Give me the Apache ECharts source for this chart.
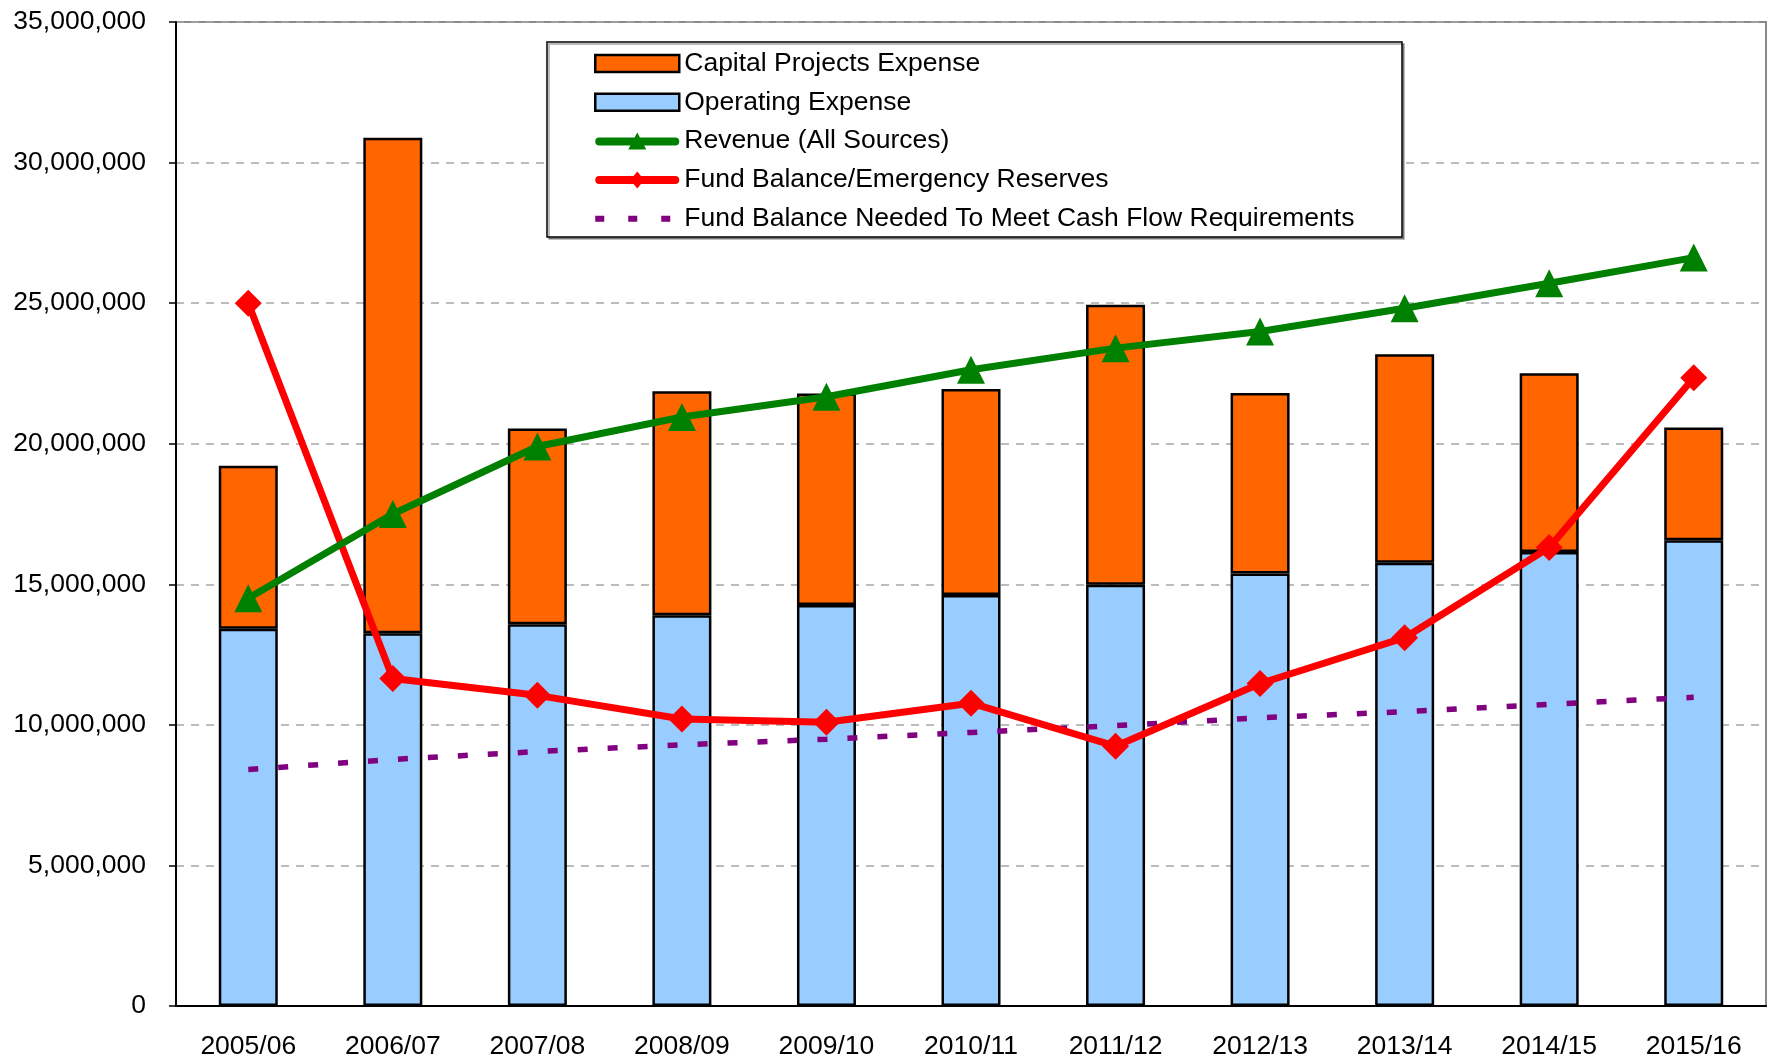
<!DOCTYPE html>
<html>
<head>
<meta charset="utf-8">
<script src="https://cdn.jsdelivr.net/npm/echarts@6/dist/echarts.min.js"></script>
<style>
  html, body { margin: 0; padding: 0; background: #fff; }
  #chart { width: 1769px; height: 1060px; }
</style>
</head>
<body>
<div id="chart"></div>
<script>
// fiscal years on the x axis
var years = ['2005/06', '2006/07', '2007/08', '2008/09', '2009/10', '2010/11',
             '2011/12', '2012/13', '2013/14', '2014/15', '2015/16'];

// stacked bars
var operatingExpense = [13420000, 13260000, 13580000, 13900000, 14260000, 14620000,
                        14980000, 15380000, 15770000, 16150000, 16570000];
var capitalExpense   = [5800000, 17620000, 6960000, 7970000, 7530000, 7330000,
                        9960000, 6420000, 7410000, 6360000, 4010000];

// lines
var revenue     = [14500000, 17500000, 19900000, 20950000, 21670000, 22630000,
                   23400000, 23990000, 24820000, 25710000, 26620000];
var fundBalance = [25000000, 11650000, 11050000, 10210000, 10090000, 10770000,
                   9240000, 11470000, 13100000, 16310000, 22350000];
var fundNeeded  = [8410000, 8770000, 9050000, 9290000, 9490000, 9730000,
                   9970000, 10250000, 10470000, 10730000, 10980000];

var fontFamily = '"Liberation Sans", Arial, sans-serif';

// legend icons for the line series (84 x 17 box)
var iconRevenue = 'path://M4,5 h76 a4,4 0 0 1 0,8 h-76 a4,4 0 0 1 0,-8z M42,0 L51,17 L33,17z';
var iconReserve = 'path://M4,4.5 h76 a4,4 0 0 1 0,8 h-76 a4,4 0 0 1 0,-8z M42,0 L49,8.5 L42,17 L35,8.5z';
var iconNeeded  = 'path://M0,0 h0.01 v0.01 h-0.01z M83.99,16.99 h0.01 v0.01 h-0.01z ' +
                  'M0,5.5 h9 v6 h-9z M33,5.5 h9 v6 h-9z M66,5.5 h9 v6 h-9z';

var chart = echarts.init(document.getElementById('chart'));

var option = {
  animation: false,
  backgroundColor: '#ffffff',
  grid: {
    left: 176,
    right: 3,
    top: 22,
    bottom: 53,
    show: true,
    borderColor: '#8a8a8a',
    borderWidth: 2
  },
  // legend frame
  graphic: [{
    type: 'rect',
    z: 3,
    shape: { x: 547, y: 42, width: 855, height: 195 },
    style: {
      fill: '#ffffff',
      stroke: '#000000',
      lineWidth: 1.5,
      shadowColor: 'rgba(0,0,0,0.35)',
      shadowOffsetX: 2,
      shadowOffsetY: 2
    }
  }],
  legend: {
    z: 5,
    orient: 'vertical',
    left: 594,
    top: 50,
    itemWidth: 84,
    itemHeight: 17,
    itemGap: 11.8,
    padding: 0,
    symbolKeepAspect: false,
    textStyle: {
      fontFamily: fontFamily,
      fontSize: 26.5,
      lineHeight: 26,
      color: '#000'
    },
    data: [
      { name: 'Capital Projects Expense', icon: 'rect',
        itemStyle: { borderColor: '#000', borderWidth: 2.5 } },
      { name: 'Operating Expense', icon: 'rect',
        itemStyle: { borderColor: '#000', borderWidth: 2.5 } },
      { name: 'Revenue (All Sources)', icon: iconRevenue, itemStyle: { borderWidth: 0 } },
      { name: 'Fund Balance/Emergency Reserves', icon: iconReserve, itemStyle: { borderWidth: 0 } },
      { name: 'Fund Balance Needed To Meet Cash Flow Requirements', icon: iconNeeded, itemStyle: { borderWidth: 0 } }
    ]
  },
  xAxis: {
    type: 'category',
    data: years,
    boundaryGap: true,
    axisLine: { lineStyle: { color: '#000', width: 2 } },
    axisTick: { length: 8, lineStyle: { color: '#000', width: 1.5 } },
    axisLabel: {
      margin: 27,
      fontFamily: fontFamily,
      fontSize: 26.5,
      color: '#000'
    },
    splitLine: { show: false }
  },
  yAxis: {
    type: 'value',
    min: 0,
    max: 35000000,
    interval: 5000000,
    axisLine: { show: true, lineStyle: { color: '#000', width: 2 } },
    axisTick: { show: true, length: 7, lineStyle: { color: '#000', width: 1.5 } },
    axisLabel: {
      margin: 30,
      fontFamily: fontFamily,
      fontSize: 26.5,
      color: '#000',
      formatter: function (v) { return v.toLocaleString('en-US'); }
    },
    splitLine: {
      show: true,
      lineStyle: { color: '#a6a6a6', width: 1.5, type: [8, 7] }
    }
  },
  series: [
    {
      name: 'Operating Expense',
      type: 'bar',
      stack: 'exp',
      barWidth: 59,
      data: operatingExpense,
      itemStyle: { color: '#99ccff', borderColor: '#000', borderWidth: 2.5 }
    },
    {
      name: 'Capital Projects Expense',
      type: 'bar',
      stack: 'exp',
      barWidth: 59,
      data: capitalExpense,
      itemStyle: { color: '#ff6600', borderColor: '#000', borderWidth: 2.5 }
    },
    {
      name: 'Fund Balance Needed To Meet Cash Flow Requirements',
      type: 'line',
      data: fundNeeded,
      symbol: 'none',
      z: 3,
      itemStyle: { color: '#800080' },
      lineStyle: { color: '#800080', width: 5.5, type: [10, 20] }
    },
    {
      name: 'Fund Balance/Emergency Reserves',
      type: 'line',
      data: fundBalance,
      symbol: 'diamond',
      symbolSize: 27,
      z: 4,
      itemStyle: { color: '#ff0000' },
      lineStyle: { color: '#ff0000', width: 7 }
    },
    {
      name: 'Revenue (All Sources)',
      type: 'line',
      data: revenue,
      symbol: 'triangle',
      symbolSize: 28,
      z: 4,
      itemStyle: { color: '#008000' },
      lineStyle: { color: '#008000', width: 7 }
    }
  ]
};

chart.setOption(option);
</script>
</body>
</html>
